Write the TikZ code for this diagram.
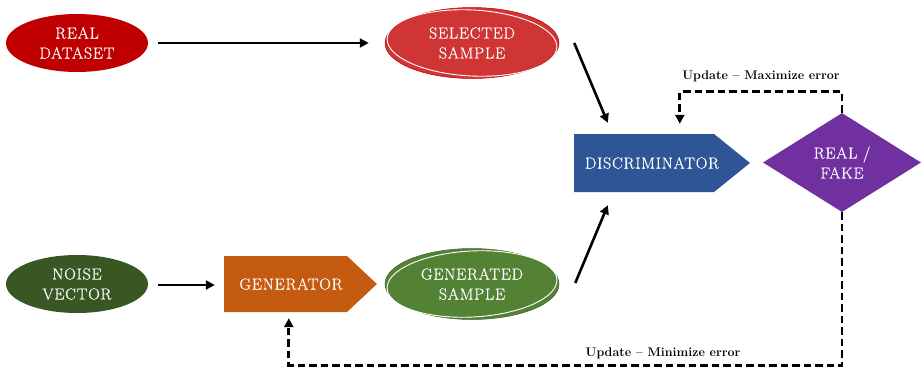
\documentclass[tikz,border=0pt]{standalone}
\usepackage{fontspec}
\usetikzlibrary{shapes.geometric,arrows.meta,calc}
\newfontfamily\nodefont{Latin Modern Roman}[FakeBold=0.5,LetterSpace=5]
\definecolor{realred}{HTML}{C00000}
\definecolor{selred}{HTML}{CF3535}
\definecolor{discblue}{HTML}{2F5597}
\definecolor{rfpurple}{HTML}{7030A0}
\definecolor{noisegreen}{HTML}{385723}
\definecolor{genorange}{HTML}{C55A11}
\definecolor{gengreen}{HTML}{548235}

\begin{document}
\begin{tikzpicture}[x=1pt,y=-1pt,
  lbl/.style={text=white,font=\nodefont\fontsize{16}{20}\selectfont,align=center},
  blob/.style={ellipse,inner sep=0,lbl},
  box/.style={inner sep=0,lbl},
  flow/.style={line width=2.6pt,-{Triangle[length=9pt,width=9pt]}},
  fb/.style={line width=2.8pt,dash pattern=on 7.5pt off 4pt,-{Triangle[length=9pt,width=9pt]}},
  note/.style={font=\bfseries\fontsize{12.5}{15}\selectfont}]
\useasboundingbox (0,0) rectangle (921,370);

% sources
\node[blob,fill=realred,minimum width=142,minimum height=58] (real) at (77,43) {REAL\\DATASET};
\node[blob,fill=noisegreen,minimum width=142,minimum height=58] (noise) at (77,284) {NOISE\\VECTOR};

% samples with a sketched double rim
\node[blob,fill=selred,draw=realred,line width=0.5pt,minimum width=174,minimum height=71] (sel) at (472,43) {SELECTED\\SAMPLE};
\draw[white,line width=0.9pt,rotate around={-3:(sel.center)}] (sel.center) ellipse[x radius=85,y radius=33];
\node[blob,fill=gengreen,draw=gengreen!80!black,line width=0.5pt,minimum width=174,minimum height=71] (gsam) at (472,284) {GENERATED\\SAMPLE};
\draw[white,line width=0.9pt,rotate around={3:(gsam.center)}] (gsam.center) ellipse[x radius=85,y radius=33];

% pentagon arrow boxes
\fill[discblue] (574,134) -- (714,134) -- (750,163) -- (714,192) -- (574,192) -- cycle;
\node[box,minimum width=176,minimum height=58] (disc) at (662,163) {};
\node[lbl] at (652,163) {DISCRIMINATOR};

\fill[genorange] (224,256) -- (347,256) -- (377,284) -- (347,312) -- (224,312) -- cycle;
\node[box,minimum width=153,minimum height=56] (gen) at (300.5,284) {};
\node[lbl] at (291,284) {GENERATOR};

% decision
\node[diamond,fill=rfpurple,inner sep=0,minimum width=158,minimum height=99,lbl] (rf) at (842,162.5) {REAL /\\FAKE};

% forward flow
\draw[flow] ($(real.east)+(10,0)$) -- ($(sel.west)+(-16,0)$);
\draw[flow] ($(noise.east)+(10,1)$) -- ($(gen.west)+(-9,1)$);
\draw[flow] ($(sel.east)+(15,0)$) -- ($(disc.north west)+(34,-11)$);
\draw[flow] ($(gsam.east)+(16,-1)$) -- ($(disc.south west)+(34,13)$);

% feedback loops
\draw[fb] (rf.north) -- ++(0,-21) -| ($(disc.north west)+(106,-10)$);
\draw[fb] (rf.south) -- ($(rf.south)+(0,153)$) -| ($(gen.south west)+(65,6)$);

\node[note] at (761,76) {Update -- Maximize error};
\node[note] at (663,353) {Update -- Minimize error};
\end{tikzpicture}
\end{document}
